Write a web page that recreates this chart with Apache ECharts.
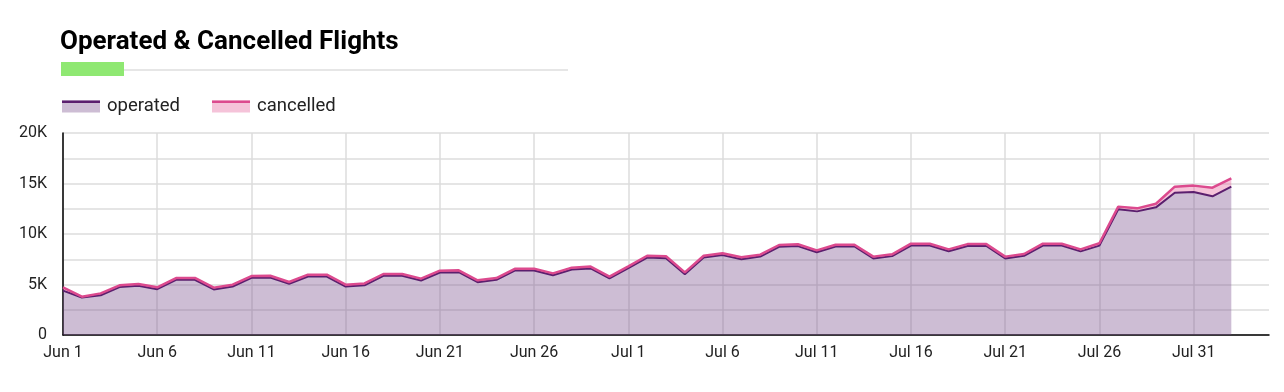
<!DOCTYPE html>
<html>
<head>
<meta charset="utf-8">
<script src="https://cdn.jsdelivr.net/npm/echarts@6/dist/echarts.min.js"></script>
<style>
html,body{margin:0;padding:0;background:#fff;}
#chart{width:1284px;height:392px;}
</style>
</head>
<body>
<div id="chart"></div>
<script>
// Categories: Jun 1 .. Aug 4 (axis extends two days past the last data point)
var categories = [];
(function(){
  var months = ['Jun','Jul','Aug'];
  var lens = [30,31,4];
  for (var m = 0; m < 3; m++) for (var d = 1; d <= lens[m]; d++) categories.push(months[m] + ' ' + d);
})();

var operated = [4390,3710,3940,4740,4870,4540,5460,5460,4510,4800,
                5660,5690,5070,5790,5790,4800,4920,5860,5860,5400,
                6190,6220,5230,5460,6390,6390,5920,6490,6590,5600,
                6620,7670,7610,6020,7670,7910,7510,7770,8730,8800,
                8200,8760,8760,7580,7810,8860,8860,8300,8820,8820,
                7580,7840,8860,8860,8280,8850,12440,12240,12640,14090,
                14160,13730,14690];
var cancelled = [330,80,180,180,170,180,180,190,180,180,
                 180,180,180,180,180,180,180,180,180,180,
                 180,180,180,180,180,180,180,180,180,180,
                 180,180,180,180,180,180,180,180,180,180,
                 180,180,180,180,180,180,180,180,180,180,
                 180,180,180,180,200,230,270,300,360,600,
                 630,860,820];
var seriesNames = ['operated','cancelled'];
var yTicks = [0,5000,10000,15000,20000];

var FONT = 'Roboto';
var opLine = '#5b1f6e', opFill = 'rgba(120,77,139,0.37)';
var caLine = '#dc4a8e', caFill = 'rgba(228,93,152,0.37)';

var baseGraphic = [
  {type: 'rect', shape: {x: 124, y: 69, width: 444, height: 2}, style: {fill: '#e6e6e6'}},
  {type: 'rect', shape: {x: 61, y: 62, width: 63, height: 14}, style: {fill: '#8fe872'}}
];

var chart = echarts.init(document.getElementById('chart'));
chart.setOption({
  animation: false,
  textStyle: {fontFamily: FONT},
  title: {
    text: 'Operated & Cancelled Flights',
    left: 55, top: 24,
    textStyle: {fontFamily: FONT, fontWeight: 'bold', fontSize: 26, color: '#000'}
  },
  legend: {
    left: 62, top: 97, padding: 0,
    icon: 'rect', itemWidth: 38, itemHeight: 12, itemGap: 32,
    textStyle: {fontFamily: FONT, fontSize: 18.5, color: '#222', padding: [0, 0, 0, 2]},
    data: [
      {name: seriesNames[0], itemStyle: {color: 'rgb(205,189,212)'}},
      {name: seriesNames[1], itemStyle: {color: 'rgb(245,195,217)'}}
    ]
  },
  graphic: baseGraphic,
  grid: {left: 63, right: 15, top: 133, bottom: 57, containLabel: false},
  xAxis: {
    type: 'category',
    data: categories,
    boundaryGap: false,
    axisLine: {lineStyle: {color: '#000', width: 1.5}},
    axisTick: {show: false},
    axisLabel: {interval: 4, color: '#222', fontSize: 16, fontFamily: FONT, margin: 10},
    splitLine: {show: true, interval: 4, lineStyle: {color: '#dcdcdc', width: 1.5}}
  },
  yAxis: {
    type: 'value',
    min: 0, max: 20000, interval: 2500,
    axisLine: {show: true, lineStyle: {color: '#000', width: 1.5}},
    axisTick: {show: false},
    axisLabel: {
      color: '#222', fontSize: 16, fontFamily: FONT, margin: 16,
      formatter: function(v){
        if (yTicks.indexOf(v) < 0) return '';
        return v === 0 ? '0' : (v/1000) + 'K';
      }
    },
    splitLine: {lineStyle: {color: '#dcdcdc', width: 1.5}}
  },
  series: [
    {
      name: seriesNames[0], type: 'line', stack: 'total', data: operated,
      showSymbol: false, symbol: 'none',
      lineStyle: {color: opLine, width: 2},
      itemStyle: {color: opLine},
      areaStyle: {color: opFill, opacity: 1}
    },
    {
      name: seriesNames[1], type: 'line', stack: 'total', data: cancelled,
      showSymbol: false, symbol: 'none',
      lineStyle: {color: caLine, width: 2.5},
      itemStyle: {color: caLine},
      areaStyle: {color: caFill, opacity: 1}
    }
  ]
});

// Top strokes on the legend swatches, placed from the legend's own layout
setTimeout(function(){
  var legendView = chart._componentsViews.filter(function(v){return v && v.type === 'legend.plain';})[0];
  var els = [];
  if (legendView) {
    var group = legendView.getContentGroup();
    group.children().forEach(function(item, idx){
      var gx = group.x + (legendView.group.x || 0) + (item.x || 0);
      var gy = group.y + (legendView.group.y || 0) + (item.y || 0);
      var icon = item.childAt(0);
      var ib = icon.getBoundingRect();
      els.push({type: 'rect', shape: {x: gx + ib.x, y: gy + ib.y, width: ib.width, height: 2.5},
        style: {fill: idx === 0 ? opLine : caLine}, z: 100});
    });
  }
  chart.setOption({graphic: baseGraphic.concat(els)}, {replaceMerge: ['graphic']});
}, 0);
</script>
</body>
</html>
